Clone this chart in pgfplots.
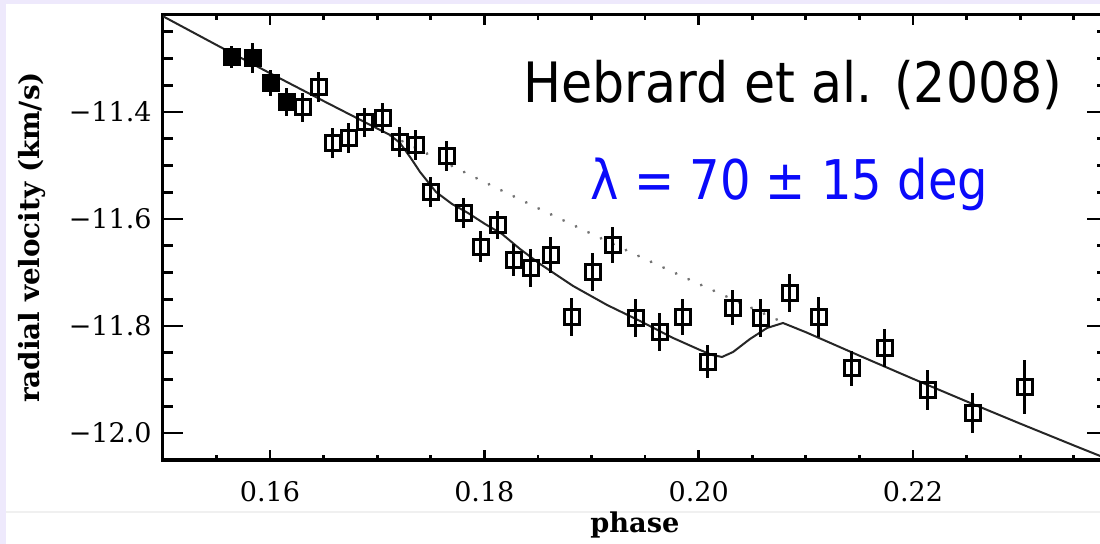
\documentclass[border=0pt]{standalone}
\usepackage{fontspec}
\setmainfont{DejaVu Serif}
\newfontfamily\sansf{DejaVu Sans}
\usepackage{pgfplots}
\pgfplotsset{compat=1.18}
\definecolor{lav}{RGB}{238,233,252}
\definecolor{myblue}{RGB}{10,10,250}
\pgfplotsset{
  common/.style={
    at={(81.4bp,42bp)}, anchor=south west, scale only axis,
    width=472.1bp, height=222.5bp,
    xmin=0.15, xmax=0.2381, ymin=-12.0505, ymax=-11.2187,
    axis line style={line width=1.5bp, black},
    tick align=inside,
    every tick/.style={black, line width=1.4bp},
    tick label style={font=\fontsize{13.5bp}{16bp}\selectfont},
  }
}
\begin{document}
\begin{tikzpicture}
\useasboundingbox (0,0) rectangle (550bp,272bp);
\clip (0,0) rectangle (550bp,272bp);
\fill[lav] (0,0) rectangle (550bp,272bp);
\fill[white] (3bp,0) rectangle (550bp,270bp);
\draw[gray!12, line width=0.6bp] (3bp,16bp) -- (550bp,16bp);
% y-tick axis
\begin{axis}[common,
  xtick=\empty,
  ytick={-12,-11.8,-11.6,-11.4},
  yticklabels={−12.0,−11.8,−11.6,−11.4},
  minor ytick={-11.25,-11.3,-11.35,-11.45,-11.5,-11.55,-11.65,-11.7,-11.75,-11.85,-11.9,-11.95},
  major tick length=10bp, minor tick length=5bp,
  yticklabel style={anchor=east, inner sep=0pt, xshift=-5.4bp},
  ylabel={\fontsize{13.9bp}{16bp}\selectfont\bfseries radial velocity (km/s)},
  every axis y label/.style={at={(axis description cs:-0.1385,0.5)}, rotate=90, anchor=center},
]
\end{axis}
% x-tick axis with data
\begin{axis}[common,
  ytick=\empty,
  xtick={0.16,0.18,0.20,0.22},
  xticklabels={0.16,0.18,0.20,0.22},
  minor xtick={0.155,0.165,0.17,0.175,0.185,0.19,0.195,0.205,0.21,0.215,0.225,0.23,0.235},
  major tick length=5bp, minor tick length=2.5bp,
  xticklabel style={anchor=base, inner sep=0pt, yshift=-20.5bp},
  xlabel={\fontsize{13.6bp}{16bp}\selectfont\bfseries phase},
  every axis x label/.style={at={(axis description cs:0.5,0)}, anchor=base, yshift=-36bp},
]
% Keplerian (no RM) dotted
\addplot[black!55, line width=1.6bp, dash pattern=on 0.01bp off 6.9bp, line cap=round] coordinates {
(0.1712,-11.4430) (0.175,-11.4813) (0.18,-11.5309) (0.185,-11.5797) (0.19,-11.6277)
(0.195,-11.6749) (0.2,-11.7213) (0.205,-11.7668) (0.2079,-11.7935)};
% model with RM
\addplot[black!85, line width=1bp] coordinates {
(0.15,-11.2209) (0.155,-11.2746) (0.16,-11.3275) (0.165,-11.3795) (0.17,-11.4308) (0.1712,-11.4430)
(0.17213,-11.4579) (0.17307,-11.4841) (0.17400,-11.5121) (0.17549,-11.5495) (0.17699,-11.5720)
(0.17848,-11.5888) (0.18006,-11.6093) (0.18165,-11.6280) (0.18333,-11.6561) (0.18520,-11.6841)
(0.18828,-11.7252) (0.19145,-11.7607) (0.19453,-11.7907) (0.19761,-11.8224) (0.20013,-11.8449)
(0.20125,-11.8542) (0.20218,-11.8579) (0.20321,-11.8486) (0.20479,-11.8243) (0.20638,-11.8037)
(0.20787,-11.7944) (0.21,-11.8116) (0.215,-11.8555) (0.22,-11.8987) (0.225,-11.9410)
(0.23,-11.9825) (0.235,-12.0232) (0.2375,-12.0433)};
% open squares
\addplot[only marks, mark=square, mark size=3.7bp, mark options={line width=1.4bp, black},
  error bars/.cd, y dir=both, y explicit, error mark=none,
  error bar style={line width=1.5bp, black}] coordinates {
(0.16306,-11.391) +- (0,0.027)
(0.16456,-11.353) +- (0,0.028)
(0.16586,-11.458) +- (0,0.028)
(0.16736,-11.449) +- (0,0.028)
(0.16885,-11.419) +- (0,0.027)
(0.17053,-11.411) +- (0,0.028)
(0.17212,-11.456) +- (0,0.028)
(0.17361,-11.462) +- (0,0.028)
(0.17501,-11.550) +- (0,0.028)
(0.17651,-11.482) +- (0,0.028)
(0.17809,-11.589) +- (0,0.028)
(0.17967,-11.652) +- (0,0.029)
(0.18126,-11.611) +- (0,0.026)
(0.18275,-11.677) +- (0,0.030)
(0.18434,-11.692) +- (0,0.036)
(0.18621,-11.667) +- (0,0.034)
(0.18817,-11.783) +- (0,0.035)
(0.19012,-11.699) +- (0,0.036)
(0.19199,-11.649) +- (0,0.034)
(0.19414,-11.785) +- (0,0.035)
(0.19638,-11.811) +- (0,0.036)
(0.19853,-11.783) +- (0,0.033)
(0.20086,-11.867) +- (0,0.031)
(0.20319,-11.766) +- (0,0.033)
(0.20581,-11.785) +- (0,0.036)
(0.20851,-11.738) +- (0,0.035)
(0.21122,-11.783) +- (0,0.037)
(0.21430,-11.879) +- (0,0.033)
(0.21738,-11.841) +- (0,0.035)
(0.22139,-11.920) +- (0,0.037)
(0.22559,-11.963) +- (0,0.037)
(0.23044,-11.914) +- (0,0.051)
};
% filled squares
\addplot[only marks, mark=square*, mark size=3.9bp, mark options={line width=1.2bp, black, fill=black},
  error bars/.cd, y dir=both, y explicit, error mark=none,
  error bar style={line width=1.5bp, black}] coordinates {
(0.15644,-11.297) +- (0,0.021)
(0.15840,-11.299) +- (0,0.028)
(0.16008,-11.346) +- (0,0.025)
(0.16157,-11.381) +- (0,0.026)
};
\end{axis}
\node[anchor=base west, inner sep=0pt] at (261.5bp,220.5bp)
  {\scalebox{1}[1.1]{\sansf\fontsize{25.3bp}{30bp}\selectfont Hebrard et al. (2008)}};
\node[anchor=base west, inner sep=0pt, text=myblue] at (295bp,172bp)
  {\scalebox{1}[1.14]{\sansf\fontsize{24bp}{30bp}\selectfont λ = 70 ± 15 deg}};
\end{tikzpicture}
\end{document}
